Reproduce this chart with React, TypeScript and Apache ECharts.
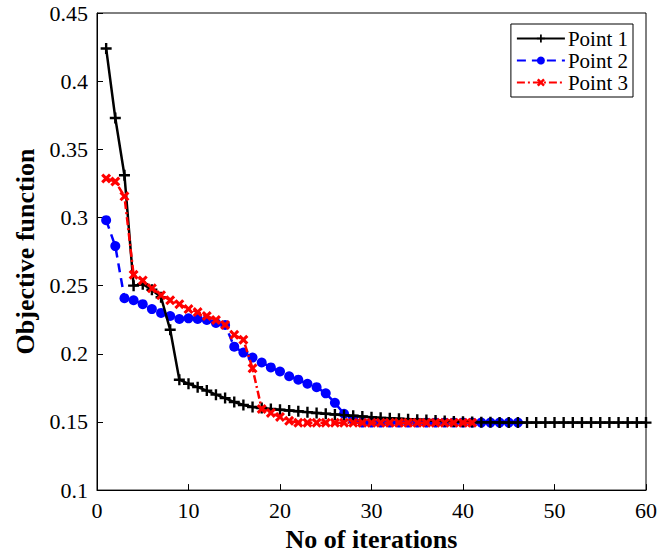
import React, { useEffect, useRef } from "react";
import * as echarts from "echarts";

const point1: number[] = [
  0.424, 0.373, 0.331, 0.25, 0.251, 0.247, 0.2415, 0.2176, 0.181, 0.178,
  0.1755, 0.173, 0.17, 0.1675, 0.1646, 0.1624, 0.161, 0.1602, 0.1595, 0.159,
  0.1584, 0.1578, 0.1572, 0.1566, 0.156, 0.1555, 0.155, 0.1545, 0.154, 0.1535,
  0.153, 0.1527, 0.1524, 0.152, 0.1517, 0.1514, 0.151, 0.1507, 0.1504, 0.1502,
  0.15, 0.1498, 0.1497, 0.1496, 0.1495, 0.1495, 0.1495, 0.1495, 0.1495, 0.1495,
  0.1495, 0.1495, 0.1495, 0.1495, 0.1495, 0.1495, 0.1495, 0.1495, 0.1495, 0.1495,
];
const point2: number[] = [
  0.298, 0.279, 0.2408, 0.2393, 0.2364, 0.2328, 0.23, 0.2277, 0.2255, 0.226,
  0.2255, 0.2248, 0.2226, 0.2212, 0.2052, 0.2009, 0.1972, 0.1936, 0.19, 0.187,
  0.1835, 0.181, 0.178, 0.1755, 0.171, 0.164, 0.156, 0.1515, 0.1495, 0.1495,
  0.1495, 0.1495, 0.1495, 0.1495, 0.1495, 0.1495, 0.1495, 0.1495, 0.1495, 0.1495,
  0.1495, 0.1495, 0.1495, 0.1495, 0.1495, 0.1495,
];
const point3: number[] = [
  0.3286, 0.3264, 0.3155, 0.258, 0.2538, 0.248, 0.243, 0.2393, 0.2364, 0.2328,
  0.2306, 0.2277, 0.2248, 0.2212, 0.2139, 0.2103, 0.1893, 0.1595, 0.1566, 0.1537,
  0.1508, 0.1494, 0.1494, 0.1494, 0.1494, 0.1494, 0.1494, 0.1494, 0.1494, 0.1494,
  0.1494, 0.1494, 0.1494, 0.1494, 0.1494, 0.1494, 0.1494, 0.1494, 0.1494, 0.1494,
  0.1494,
];
const seriesNames = ["Point 1", "Point 2", "Point 3"];

const toXY = (arr: number[]) => arr.map((v, i) => [i + 1, v]);

const PLUS = "path://M-1.3,-6L1.3,-6L1.3,-1.3L6,-1.3L6,1.3L1.3,1.3L1.3,6L-1.3,6L-1.3,1.3L-6,1.3L-6,-1.3L-1.3,-1.3Z";
const CROSS = "path://M-3.4,-6L0,-2.6L3.4,-6L6,-3.4L2.6,0L6,3.4L3.4,6L0,2.6L-3.4,6L-6,3.4L-2.6,0L-6,-3.4Z";

const FONT = "Liberation Serif";

export default function App() {
  const ref = useRef<HTMLDivElement>(null);
  useEffect(() => {
    if (!ref.current) return;
    const chart = echarts.init(ref.current, undefined, { renderer: "svg" });
    chart.setOption({
      animation: false,
      backgroundColor: "#fff",
      textStyle: { fontFamily: FONT },
      grid: {
        left: 97,
        right: 13,
        top: 13,
        bottom: 62,
        show: true,
        borderColor: "#000",
        borderWidth: 1,
        backgroundColor: "transparent",
      },
      legend: {
        orient: "vertical",
        right: 27,
        top: 24,
        backgroundColor: "#fff",
        borderColor: "#000",
        borderWidth: 1,
        padding: [4, 5, 4, 5],
        itemGap: 1,
        itemWidth: 48,
        itemHeight: 10,
        textStyle: {
          fontFamily: FONT,
          fontSize: 21,
          lineHeight: 21,
          color: "#000",
          padding: [0, 0, 0, -2],
        },
        data: seriesNames,
      },
      xAxis: {
        type: "value",
        min: 0,
        max: 60,
        interval: 10,
        name: "No of iterations",
        nameLocation: "middle",
        nameGap: 29,
        nameTextStyle: { fontFamily: FONT, fontSize: 26, fontWeight: "bold", color: "#000" },
        axisLine: { show: true, lineStyle: { color: "#000", width: 1 } },
        axisTick: { show: true, inside: true, length: 6, lineStyle: { color: "#000" } },
        axisLabel: { fontFamily: FONT, fontSize: 22, color: "#000", margin: 9 },
        splitLine: { show: false },
      },
      yAxis: {
        type: "value",
        min: 0.1,
        max: 0.45,
        interval: 0.05,
        name: "Objective function",
        nameLocation: "middle",
        nameGap: 57,
        nameTextStyle: { fontFamily: FONT, fontSize: 26, fontWeight: "bold", color: "#000" },
        axisLine: { show: true, lineStyle: { color: "#000", width: 1 } },
        axisTick: { show: true, inside: true, length: 6, lineStyle: { color: "#000" } },
        axisLabel: {
          fontFamily: FONT,
          fontSize: 22,
          color: "#000",
          margin: 9,
          formatter: (v: number) => String(Math.round(v * 100) / 100),
        },
        splitLine: { show: false },
      },
      series: [
        {
          name: seriesNames[0],
          type: "line",
          data: toXY(point1),
          symbol: PLUS,
          symbolSize: 11,
          showAllSymbol: true,
          itemStyle: { color: "#000" },
          lineStyle: { color: "#000", width: 2.5, type: "solid" },
          z: 3,
        },
        {
          name: seriesNames[1],
          type: "line",
          data: toXY(point2),
          symbol: "circle",
          symbolSize: 10,
          showAllSymbol: true,
          itemStyle: { color: "#0000ff" },
          lineStyle: { color: "#0000ff", width: 2.5, type: [9, 6] },
          z: 2,
        },
        {
          name: seriesNames[2],
          type: "line",
          data: toXY(point3),
          symbol: CROSS,
          symbolSize: 10,
          showAllSymbol: true,
          itemStyle: { color: "#ff0000" },
          lineStyle: { color: "#ff0000", width: 2.5, type: [8, 3, 2, 3] },
          z: 4,
        },
      ],
    });
    return () => chart.dispose();
  }, []);
  return <div ref={ref} style={{ width: 660, height: 557, position: "absolute", left: 0, top: 0 }} />;
}
